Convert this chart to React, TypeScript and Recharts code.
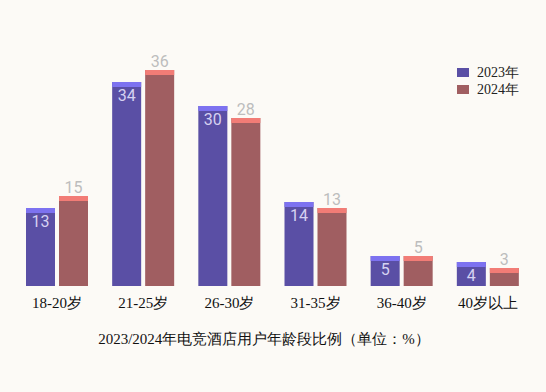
import React from "react"
import { BarChart, Bar, XAxis, YAxis, LabelList } from "recharts"

const AGE_GROUPS = ["18-20岁", "21-25岁", "26-30岁", "31-35岁", "36-40岁", "40岁以上"]
const SHARE_2023 = [13, 34, 30, 14, 5, 4]
const SHARE_2024 = [15, 36, 28, 13, 5, 3]

const SERIES = [
  { key: "y2023", name: "2023年", fill: "#5a4fa5", cap: "#7d72f0" },
  { key: "y2024", name: "2024年", fill: "#a05e61", cap: "#f27c76" },
]

const data = AGE_GROUPS.map((group, i) => ({
  group,
  y2023: SHARE_2023[i],
  y2024: SHARE_2024[i],
}))

if (typeof document !== "undefined") {
  document.body.style.margin = "0"
  document.body.style.background = "#fcfaf6"
}

// bar with a lighter strip across its top
function CappedBar(props: any, fill: string, cap: string) {
  const { x, y, width, height } = props
  if (!height || height <= 0) return <g />
  const capH = Math.min(5, height)
  return (
    <g>
      <rect x={x} y={y} width={width} height={height} fill={fill} />
      <rect x={x} y={y} width={width} height={capH} fill={cap} />
    </g>
  )
}

export default function App() {
  return (
    <div style={{ position: "relative", width: 546, height: 392, background: "#fcfaf6" }}>
      <BarChart
        width={546}
        height={392}
        data={data}
        margin={{ top: 46, right: 15, left: 14, bottom: 76 }}
        barCategoryGap={12}
        barGap={4}
      >
        <XAxis
          dataKey="group"
          axisLine={false}
          tickLine={false}
          interval={0}
          tick={{ fontSize: 15, fill: "#111", fontFamily: "serif" }}
          height={30}
          tickMargin={5}
        />
        <YAxis hide domain={[0, 40]} />
        <Bar
          dataKey="y2023"
          name="2023年"
          isAnimationActive={false}
          shape={(p: any) => CappedBar(p, SERIES[0].fill, SERIES[0].cap)}
        >
          <LabelList
            dataKey="y2023"
            position="insideTop"
            offset={8}
            style={{ fill: "#d6d2f2", fontSize: 16, fontFamily: "Roboto" }}
          />
        </Bar>
        <Bar
          dataKey="y2024"
          name="2024年"
          isAnimationActive={false}
          shape={(p: any) => CappedBar(p, SERIES[1].fill, SERIES[1].cap)}
        >
          <LabelList
            dataKey="y2024"
            position="top"
            offset={3}
            style={{ fill: "#bdbdbd", fontSize: 16, fontFamily: "Roboto" }}
          />
        </Bar>
      </BarChart>
      <div
        style={{
          position: "absolute",
          top: 64,
          left: 457,
          fontFamily: "serif",
          fontSize: 14,
          color: "#222",
        }}
      >
        {SERIES.map((s) => (
          <div key={s.key} style={{ display: "flex", alignItems: "center", height: 17 }}>
            <span style={{ width: 12, height: 9, background: s.fill, marginRight: 8 }} />
            <span>{s.name}</span>
          </div>
        ))}
      </div>
      <div
        style={{
          position: "absolute",
          top: 330,
          left: 0,
          width: 528,
          textAlign: "center",
          fontFamily: "serif",
          fontSize: 15,
          color: "#111",
        }}
      >
        2023/2024年电竞酒店用户年龄段比例（单位：%）
      </div>
    </div>
  )
}
